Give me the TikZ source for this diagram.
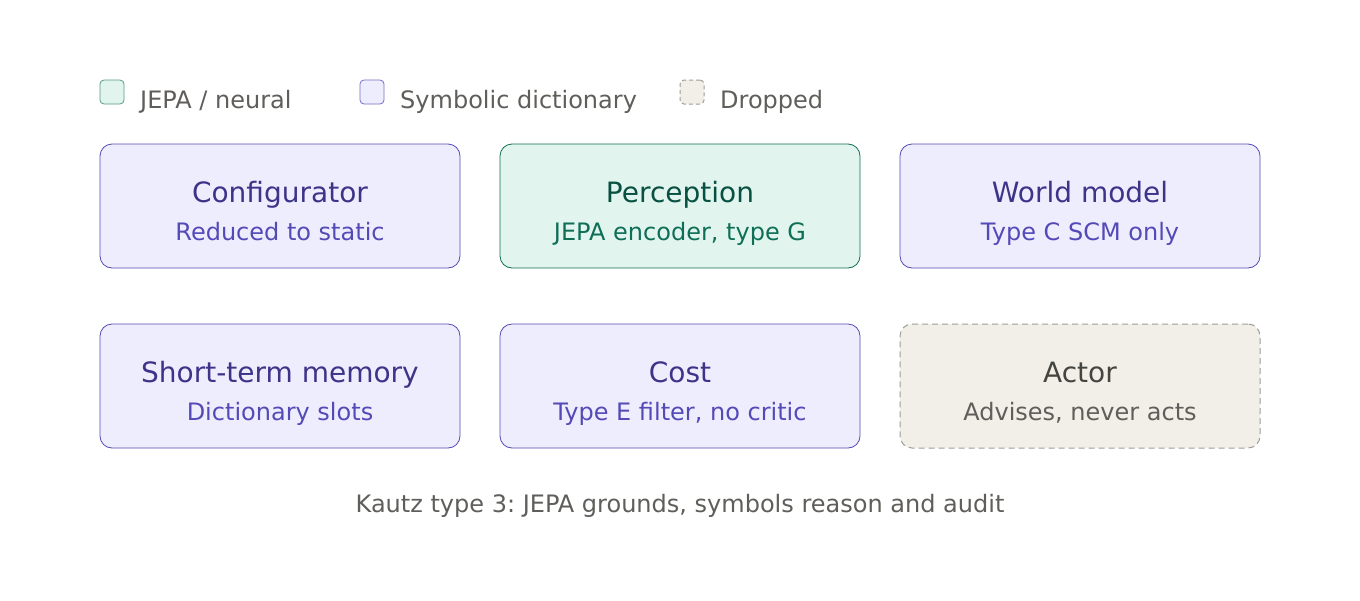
\documentclass[tikz,border=0pt]{standalone}
\usepackage{fontspec}
\setmainfont{DejaVu Sans}
\usetikzlibrary{positioning,calc}
\frenchspacing

\definecolor{purfill}{HTML}{EEEDFE}
\definecolor{purline}{HTML}{534AB7}
\definecolor{purtitle}{HTML}{3C3489}
\definecolor{grnfill}{HTML}{E1F5EE}
\definecolor{grnline}{HTML}{0F6E56}
\definecolor{grntitle}{HTML}{085041}
\definecolor{gryfill}{HTML}{F1EFE8}
\definecolor{gryline}{HTML}{A09E96}
\definecolor{grytitle}{HTML}{444441}
\definecolor{grytext}{HTML}{5F5E5A}

\tikzset{
	box/.style={rounded corners=12pt, minimum width=360pt, minimum height=124pt, inner sep=0pt, line width=0.8pt},
	sym/.style={box, fill=purfill, draw=purline},
	neural/.style={box, fill=grnfill, draw=grnline},
	dropped/.style={box, fill=gryfill, draw=gryline, line width=1pt, dash pattern=on 6pt off 4pt},
	key/.style={rounded corners=4pt, minimum width=24pt, minimum height=24pt, inner sep=0pt, line width=0.8pt},
	keytext/.style={anchor=base west, inner sep=0pt, text=grytext, font=\fontsize{24}{28}\selectfont},
	title/.style={anchor=base, inner sep=0pt, font=\fontsize{28}{32}\selectfont},
	sub/.style={anchor=base, inner sep=0pt, font=\fontsize{24}{28}\selectfont}
}

\begin{document}
\begin{tikzpicture}[x=1pt, y=-1pt]
			\useasboundingbox[fill=white] (0,0) rectangle (1360,600);
			% legend
			\node[key, fill=grnfill, draw=grnline!70] (kneural) at (112,92) {};
			\node[keytext] (tneural) at (140,108) {JEPA / neural};
			\node[key, fill=purfill, draw=purline!80] (ksym) at (372,92) {};
			\node[keytext] (tsym) at (400,108) {Symbolic dictionary};
			\node[key, fill=gryfill, draw=gryline, line width=1pt, dash pattern=on 4pt off 3pt] (kdrop) at (692,92) {};
			\node[keytext] (tdrop) at (720,108) {Dropped};
			
			% first row
			\node[sym] (conf) at (280,206) {};
			\node[title, text=purtitle] at (280,202) {Configurator};
			\node[sub, text=purline] at (280,240) {Reduced to static};
			\node[neural] (perc) at (680,206) {};
			\node[title, text=grntitle] at (680,202) {Perception};
			\node[sub, text=grnline] at (680,240) {JEPA encoder, type G};
			\node[sym] (world) at (1080,206) {};
			\node[title, text=purtitle] at (1080,202) {World model};
			\node[sub, text=purline] at (1080,240) {Type C SCM only};
			
			% second row
			\node[sym] (stm) at (280,386) {};
			\node[title, text=purtitle] at (280,382) {Short-term memory};
			\node[sub, text=purline] at (280,420) {Dictionary slots};
			\node[sym] (cost) at (680,386) {};
			\node[title, text=purtitle] at (680,382) {Cost};
			\node[sub, text=purline] at (680,420) {Type E filter, no critic};
			\node[dropped] (actor) at (1080,386) {};
			\node[title, text=grytitle] at (1080,382) {Actor};
			\node[sub, text=grytext] at (1080,420) {Advises, never acts};
			
			\node[sub, text=grytext] (caption) at (680,512) {Kautz type 3: JEPA grounds, symbols reason and audit};
		\end{tikzpicture}
\end{document}
